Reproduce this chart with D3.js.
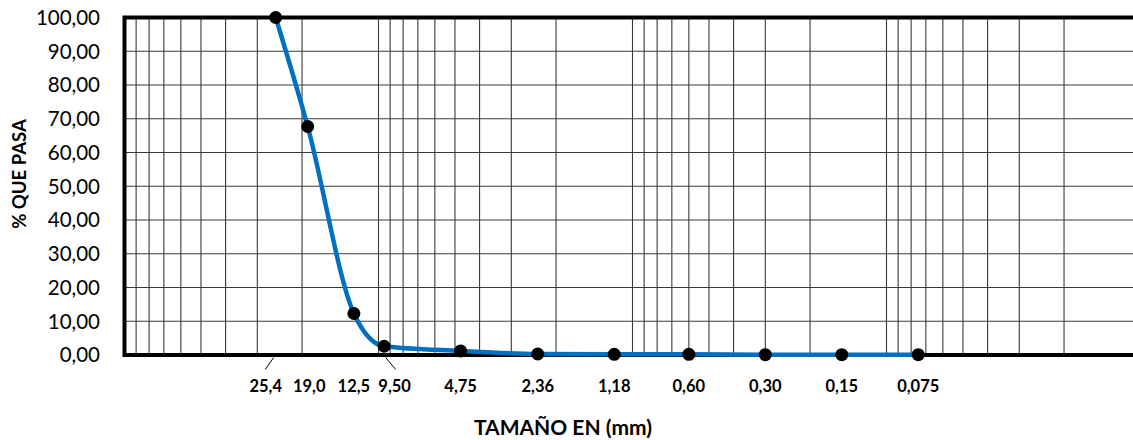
<!DOCTYPE html>
<html>
<head>
<meta charset="utf-8">
<script src="https://cdn.jsdelivr.net/npm/d3@7"></script>
<style>
  html, body { margin: 0; padding: 0; background: #fff; }
  svg { display: block; }
</style>
</head>
<body>
<svg id="chart" width="1133" height="440"></svg>
<script>
// ---- data ----
const sieveSizes = [25.4, 19.0, 12.5, 9.5, 4.75, 2.36, 1.18, 0.60, 0.30, 0.15, 0.075];
const sieveLabels = ["25,4", "19,0", "12,5", "9,50", "4,75", "2,36", "1,18", "0,60", "0,30", "0,15", "0,075"];
const percentPassing = [100, 67.7, 12.3, 2.6, 1.2, 0.3, 0.2, 0.2, 0.1, 0.1, 0.1];
const yTicks = [0, 10, 20, 30, 40, 50, 60, 70, 80, 90, 100];
const yTickLabels = ["0,00", "10,00", "20,00", "30,00", "40,00", "50,00", "60,00", "70,00", "80,00", "90,00", "100,00"];
const xTitle = "TAMAÑO EN (mm)";
const yTitle = "% QUE PASA";

// ---- layout ----
const svg = d3.select("#chart");
const FONT = "Lato, 'Open Sans', sans-serif";
const x = d3.scaleLog().domain([100, 0.01]).range([124.5, 1140.5]);
const y = d3.scaleLinear().domain([0, 100]).range([355, 17.5]);

// vertical log grid (1..9 x 10^k)
const gridX = [];
[0.01, 0.1, 1, 10].forEach(dec => {
  for (let m = 1; m <= 9; m++) gridX.push(m * dec);
});
svg.append("g").selectAll("line").data(gridX.filter(v => v > 0.01 && v < 100)).join("line")
  .attr("x1", d => x(d)).attr("x2", d => x(d))
  .attr("y1", y(100)).attr("y2", y(0))
  .attr("stroke", "#3a3a3a").attr("stroke-width", 1.1);

// horizontal grid
svg.append("g").selectAll("line").data(yTicks.filter(v => v > 0 && v < 100)).join("line")
  .attr("x1", x(100)).attr("x2", x(0.01))
  .attr("y1", d => y(d)).attr("y2", d => y(d))
  .attr("stroke", "#3a3a3a").attr("stroke-width", 1.1);

// frame
svg.append("rect")
  .attr("x", x(100)).attr("y", y(100))
  .attr("width", x(0.01) - x(100)).attr("height", y(0) - y(100))
  .attr("fill", "none").attr("stroke", "#000").attr("stroke-width", 4);

// y tick labels
svg.append("g").selectAll("text").data(yTicks).join("text")
  .attr("x", 100).attr("y", d => y(d))
  .attr("dy", "0.36em")
  .attr("text-anchor", "end")
  .attr("font-family", FONT).attr("font-size", 20.5).attr("fill", "#000")
  .text((d, i) => yTickLabels[i]);

// x labels (sieve sizes) with nudges for crowded ones
const nudge = { "25,4": -10, "9,50": 10.5, "19,0": 1.5 };
svg.append("g").selectAll("text").data(sieveSizes).join("text")
  .attr("x", (d, i) => x(d) + (nudge[sieveLabels[i]] || 0))
  .attr("y", 386.5).attr("dy", "0.36em")
  .attr("text-anchor", "middle")
  .attr("font-family", FONT).attr("font-weight", "bold").attr("font-size", 16.5).attr("fill", "#000")
  .text((d, i) => sieveLabels[i]);

// leader lines for nudged labels
const leaders = sieveSizes.map((d, i) => ({ d, lab: sieveLabels[i] })).filter(o => o.lab === "25,4" || o.lab === "9,50");
svg.append("g").selectAll("line").data(leaders).join("line")
  .attr("x1", o => x(o.d) + (o.lab === "25,4" ? -2 : 1.5))
  .attr("y1", 357.5)
  .attr("x2", o => x(o.d) + (o.lab === "25,4" ? -10.5 : 11.5))
  .attr("y2", 369.5)
  .attr("stroke", "#000").attr("stroke-width", 1);

// curve
const pts = sieveSizes.map((d, i) => [x(d), y(percentPassing[i])]);
svg.append("path")
  .attr("d", d3.line().curve(d3.curveMonotoneX)(pts))
  .attr("fill", "none").attr("stroke", "#0070C0").attr("stroke-width", 4.5)
  .attr("stroke-linejoin", "round");

// markers
svg.append("g").selectAll("circle").data(pts).join("circle")
  .attr("cx", p => p[0]).attr("cy", p => p[1]).attr("r", 6.5)
  .attr("fill", "#000");

// axis titles
svg.append("text")
  .attr("x", 563).attr("y", 427).attr("dy", "0.36em")
  .attr("text-anchor", "middle")
  .attr("font-family", FONT).attr("font-weight", "bold").attr("font-size", 21).attr("fill", "#000")
  .text(xTitle);

svg.append("text")
  .attr("transform", "translate(19,174) rotate(-90)")
  .attr("dy", "0.36em")
  .attr("text-anchor", "middle")
  .attr("font-family", FONT).attr("font-weight", "bold").attr("font-size", 18.5).attr("fill", "#000")
  .text(yTitle);
</script>
</body>
</html>
